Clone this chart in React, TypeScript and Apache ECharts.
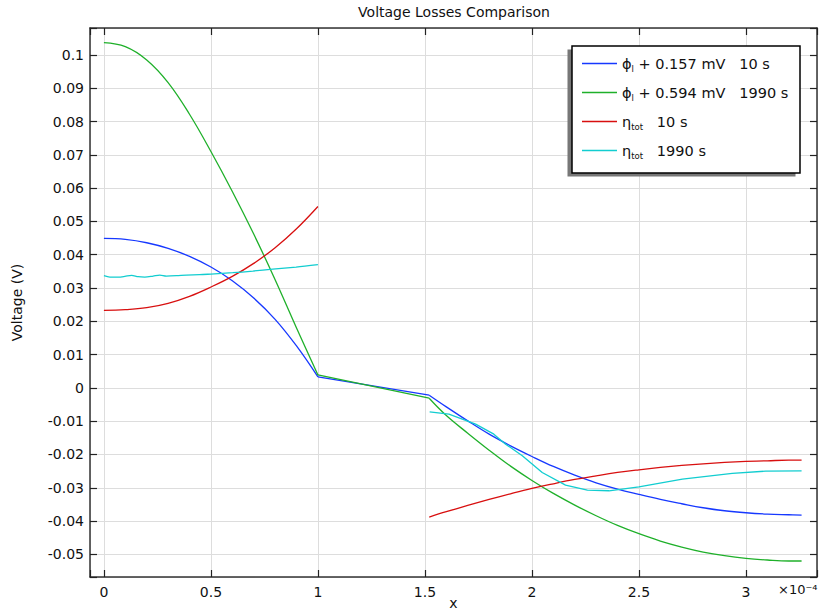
import React, { useEffect, useRef } from "react";
import * as echarts from "echarts";

// x in units of 1e-4
const xLeft = [0, 0.1, 0.2, 0.3, 0.4, 0.5, 0.6, 0.7, 0.8, 0.9, 1.0];
const xSep = [1.0, 1.52];
const xRight = [1.52, 1.6, 1.7, 1.8, 1.9, 2.0, 2.1, 2.2, 2.3, 2.4, 2.5, 2.6, 2.7, 2.8, 2.9, 3.0, 3.1, 3.2, 3.26];

const phi10Left = [0.0449, 0.0446, 0.0436, 0.0419, 0.0395, 0.0363, 0.0322, 0.027, 0.0206, 0.0126, 0.0033];
const phi10Sep = [0.0033, -0.0022];
const phi10Right = [-0.0022, -0.0057, -0.0099, -0.0139, -0.0174, -0.0206, -0.0236, -0.0262, -0.0285, -0.0304, -0.032, -0.0335, -0.0348, -0.036, -0.0369, -0.0375, -0.0379, -0.0381, -0.0382];

const phi1990Left = [0.1037, 0.1025, 0.0985, 0.0917, 0.0822, 0.071, 0.059, 0.0462, 0.0325, 0.018, 0.0039];
const phi1990Sep = [0.0039, -0.0031];
const phi1990Right = [-0.0031, -0.0083, -0.0136, -0.0187, -0.0235, -0.0278, -0.0317, -0.0352, -0.0384, -0.0413, -0.0438, -0.046, -0.0478, -0.0493, -0.0504, -0.0512, -0.0517, -0.052, -0.052];

const eta10Left = [0.0233, 0.0235, 0.0241, 0.0254, 0.0275, 0.0303, 0.0335, 0.0374, 0.0421, 0.0478, 0.0545];
const eta10Right = [-0.0388, -0.0372, -0.0353, -0.0335, -0.0318, -0.0302, -0.0288, -0.0275, -0.0264, -0.0254, -0.0246, -0.0239, -0.0233, -0.0228, -0.0224, -0.0221, -0.0219, -0.0217, -0.0217];

const eta1990LeftX = [0, 0.028, 0.067, 0.098, 0.129, 0.16, 0.191, 0.23, 0.261, 0.292, 0.339, 0.385, 0.447, 0.5, 0.602, 0.696, 0.789, 0.898, 1.0];
const eta1990Left = [0.0337, 0.0333, 0.0333, 0.0335, 0.0338, 0.0334, 0.0333, 0.0336, 0.0339, 0.0336, 0.0337, 0.0339, 0.034, 0.0342, 0.0346, 0.0351, 0.0357, 0.0363, 0.037];
const eta1990RightX = [1.522, 1.612, 1.737, 1.822, 1.877, 1.955, 2.048, 2.157, 2.259, 2.36, 2.5, 2.703, 2.936, 3.092, 3.26];
const eta1990Right = [-0.0072, -0.0079, -0.0109, -0.0139, -0.0169, -0.0204, -0.0254, -0.0292, -0.0307, -0.0309, -0.0297, -0.0274, -0.0257, -0.025, -0.0249];

const seriesNames = ["phi10", "phi1990", "eta10", "eta1990"];
const legendLabels: Record<string, string> = {
  phi10: "{r|ϕ}{sub|l}{r| + 0.157 mV   10 s}",
  phi1990: "{r|ϕ}{sub|l}{r| + 0.594 mV   1990 s}",
  eta10: "{r|η}{sub|tot}{r|   10 s}",
  eta1990: "{r|η}{sub|tot}{r|   1990 s}",
};
const colors: Record<string, string> = {
  phi10: "#1638ff",
  phi1990: "#1fb02a",
  eta10: "#d80f0f",
  eta1990: "#12cdd0",
};
const legendRowCenters = [66, 95, 124, 153];

const FONT = "DejaVu Sans";

function seg(name: string, xs: number[], ys: number[], smooth: boolean | number) {
  return {
    type: "line",
    name,
    data: xs.map((x, i) => [x, ys[i]]),
    showSymbol: false,
    symbol: "none",
    smooth,
    silent: true,
    z: 3,
    lineStyle: { color: colors[name], width: 1.3 },
    itemStyle: { color: colors[name] },
  };
}

const xFmt = (v: number) => {
  const r = Math.round(v * 2) / 2;
  return Math.abs(v - r) < 1e-9 ? String(r) : "";
};
const yFmt = (v: number) => {
  const r = Math.round(v * 100) / 100;
  return Math.abs(v - r) < 1e-9 ? String(r === 0 ? 0 : r) : "";
};

export default function App() {
  const ref = useRef<HTMLDivElement>(null);
  useEffect(() => {
    document.body.style.margin = "0";
    const chart = echarts.init(ref.current!, null, { renderer: "svg" });
    const axisLineStyle = { color: "#333", width: 1.5 };
    const xBase = {
      type: "value",
      min: -0.065,
      max: 3.332,
      splitNumber: 7,
      minInterval: 0.5,
      maxInterval: 0.5,
      axisLine: { show: true, onZero: false, lineStyle: axisLineStyle },
      axisTick: { show: true, inside: true, length: 7, lineStyle: { color: "#222", width: 1.2 } },
    };
    const yBase = {
      type: "value",
      min: -0.0568,
      max: 0.1081,
      splitNumber: 16,
      minInterval: 0.01,
      maxInterval: 0.01,
      axisLine: { show: true, onZero: false, lineStyle: axisLineStyle },
      axisTick: { show: true, inside: true, length: 7, lineStyle: { color: "#222", width: 1.2 } },
    };
    const legends = seriesNames.map((n, i) => ({
      show: true,
      orient: "vertical",
      left: 582,
      top: legendRowCenters[i] - 10,
      padding: 0,
      itemWidth: 35,
      itemHeight: 1.6,
      icon: "rect",
      selectedMode: false,
      z: 200,
      data: [n],
      formatter: (name: string) => legendLabels[name],
      textStyle: {
        fontFamily: FONT,
        fontSize: 14,
        color: "#111",
        rich: {
          r: { fontFamily: FONT, fontSize: 14.5, color: "#111", lineHeight: 20 },
          sub: { fontFamily: FONT, fontSize: 8.5, color: "#111", lineHeight: 5, verticalAlign: "bottom" },
        },
      },
    }));
    const option: any = {
      animation: false,
      backgroundColor: "#ffffff",
      textStyle: { fontFamily: FONT },
      title: {
        text: "Voltage Losses Comparison",
        left: 454,
        top: 5,
        padding: 0,
        textAlign: "center",
        textStyle: { fontFamily: FONT, fontSize: 14, fontWeight: "normal", color: "#111" },
      },
      grid: { left: 90, top: 28, right: 4, bottom: 38, containLabel: false, outerBoundsMode: "none" },
      xAxis: [
        {
          ...xBase,
          position: "bottom",
          name: "x",
          nameLocation: "middle",
          nameGap: 19,
          nameMoveOverlap: false,
          nameTextStyle: { fontFamily: FONT, fontSize: 14, color: "#111", verticalAlign: "top" },
          axisLabel: { formatter: xFmt, fontFamily: FONT, fontSize: 14, color: "#111", margin: 8 },
          splitLine: { show: true, lineStyle: { color: "#dddddd", width: 1 } },
        },
        {
          ...xBase,
          position: "top",
          axisLabel: { show: false },
          splitLine: { show: false },
        },
      ],
      yAxis: [
        {
          ...yBase,
          position: "left",
          name: "Voltage (V)",
          nameLocation: "middle",
          nameRotate: 90,
          nameGap: 66,
          nameMoveOverlap: false,
          nameTextStyle: { fontFamily: FONT, fontSize: 14, color: "#111" },
          axisLabel: { formatter: yFmt, fontFamily: FONT, fontSize: 14, color: "#111", margin: 6 },
          splitLine: { show: true, lineStyle: { color: "#dddddd", width: 1 } },
        },
        {
          ...yBase,
          position: "right",
          axisLabel: { show: false },
          splitLine: { show: false },
        },
      ],
      legend: legends,
      graphic: [
        { type: "rect", z: 100, shape: { x: 567.5, y: 49.5, width: 228, height: 127 }, style: { fill: "#777777" } },
        {
          type: "rect",
          z: 101,
          shape: { x: 572, y: 46, width: 228, height: 127 },
          style: { fill: "#ffffff", stroke: "#000000", lineWidth: 1.5 },
        },
        {
          type: "text",
          z: 101,
          x: 778,
          y: 583,
          style: { text: "×10⁻⁴", fontFamily: FONT, fontSize: 13, fill: "#111" },
        },
      ],
      series: [
        seg("phi10", xLeft, phi10Left, 0.4),
        seg("phi10", xSep, phi10Sep, false),
        seg("phi10", xRight, phi10Right, 0.4),
        seg("phi1990", xLeft, phi1990Left, 0.4),
        seg("phi1990", xSep, phi1990Sep, false),
        seg("phi1990", xRight, phi1990Right, 0.4),
        seg("eta10", xLeft, eta10Left, 0.4),
        seg("eta10", xRight, eta10Right, 0.4),
        seg("eta1990", eta1990LeftX, eta1990Left, 0.3),
        seg("eta1990", eta1990RightX, eta1990Right, false),
      ],
    };
    chart.setOption(option);
    return () => chart.dispose();
  }, []);
  return <div ref={ref} style={{ width: 821, height: 615 }} />;
}
